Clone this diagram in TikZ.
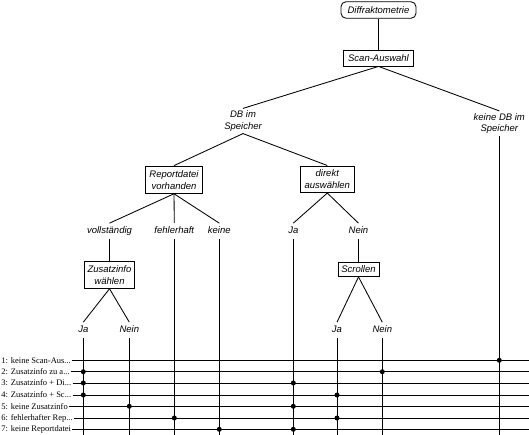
\documentclass[tikz,border=0pt]{standalone}
\usepackage{fontspec}
\setmainfont{Liberation Serif}
\newfontfamily\lsans{Liberation Sans}
\begin{document}
\begin{tikzpicture}[x=1pt,y=-1pt,line width=0.85pt,
  lbl/.style={font=\lsans\itshape\fontsize{9.5}{11}\selectfont, inner xsep=1pt, inner ysep=3pt, text height=6.8pt, text depth=2pt},
  lbltwo/.style={font=\lsans\itshape\fontsize{9.5}{11.5}\selectfont, align=center, inner sep=2pt},
  box/.style={draw, font=\lsans\itshape\fontsize{9.5}{12}\selectfont, align=center, inner sep=0pt},
  rowlbl/.style={font=\fontsize{8.5}{9}\selectfont, anchor=west, inner xsep=1pt, inner ysep=0pt},
  dot/.style={circle, fill, inner sep=0pt, minimum size=5pt}]
\useasboundingbox (0,0) rectangle (529,435);
% tree nodes
\node[box, rounded corners=5pt, minimum width=75pt, minimum height=16.5pt] (diff) at (378.5,10) {Diffraktometrie};
\node[box, minimum width=70pt, minimum height=16pt] (scan) at (378.5,58) {Scan-Auswahl};
\node[lbltwo] (db) at (243,121) {DB im\\Speicher};
\node[lbltwo] (kdb) at (499.3,123.5) {keine DB im\\Speicher};
\node[box, minimum width=56.7pt, minimum height=27.3pt] (rep) at (174,179.7) {Reportdatei\\vorhanden};
\node[box, minimum width=53.3pt, minimum height=26.7pt] (dir) at (327.3,179.3) {direkt\\auswählen};
\node[lbl] (voll) at (109.5,231) {vollständig};
\node[lbl] (fehl) at (174.3,231) {fehlerhaft};
\node[lbl] (keine) at (219.3,231) {keine};
\node[lbl] (ja1) at (293.3,231) {Ja};
\node[lbl] (nein1) at (358.5,231) {Nein};
\node[box, minimum width=50.7pt, minimum height=26.7pt] (zus) at (109.5,275) {Zusatzinfo\\wählen};
\node[box, minimum width=41pt, minimum height=14pt] (scr) at (358.5,269.5) {Scrollen};
\node[lbl] (ja2) at (83.3,330) {Ja};
\node[lbl] (nein2) at (129.3,330) {Nein};
\node[lbl] (ja3) at (337,330) {Ja};
\node[lbl] (nein3) at (382.3,330) {Nein};
% tree connectors
\draw (diff) -- (scan);
\draw (scan.south) -- (db.north);
\draw (scan.south) -- (kdb.north);
\draw (db.south) -- (rep.north);
\draw (db.south) -- (dir.north);
\draw (rep.south) -- (voll.north);
\draw (rep.south) -- (fehl.north);
\draw (rep.south) -- (keine.north);
\draw (dir.south) -- (ja1.north);
\draw (dir.south) -- (nein1.north);
\draw (voll) -- (zus);
\draw (nein1) -- (scr);
\draw (zus.south) -- (ja2.north);
\draw (zus.south) -- (nein2.north);
\draw (scr.south) -- (ja3.north);
\draw (scr.south) -- (nein3.north);
% row labels
\node[rowlbl] (r1) at (0,360.3) {1: keine Scan-Aus...};
\node[rowlbl] (r2) at (0,371.7) {2: Zusatzinfo zu a...};
\node[rowlbl] (r3) at (0,383) {3: Zusatzinfo + Di...};
\node[rowlbl] (r4) at (0,395) {4: Zusatzinfo + Sc...};
\node[rowlbl] (r5) at (0,406.3) {5: keine Zusatzinfo};
\node[rowlbl] (r6) at (0,418) {6: fehlerhafter Rep...};
\node[rowlbl] (r7) at (0,429.3) {7: keine Reportdatei};
\foreach \i/\yy in {1/360.3,2/371.7,3/383,4/395,5/406.3,6/418,7/429.3}{
  \coordinate (e\i) at (529,\yy);
  \draw (r\i.east) -- (e\i);
}
% verticals to the bottom
\coordinate (bot) at (0,435);
\foreach \n in {ja2,nein2,fehl,keine,ja1,ja3,nein3,kdb}{
  \draw (\n.south) -- (\n.south |- bot);
}
% dots
\node[dot] at (kdb |- e1) {};
\node[dot] at (ja2 |- e2) {};
\node[dot] at (nein3 |- e2) {};
\node[dot] at (ja2 |- e3) {};
\node[dot] at (ja1 |- e3) {};
\node[dot] at (ja2 |- e4) {};
\node[dot] at (ja3 |- e4) {};
\node[dot] at (nein2 |- e5) {};
\node[dot] at (ja1 |- e5) {};
\node[dot] at (fehl |- e6) {};
\node[dot] at (ja3 |- e6) {};
\node[dot] at (keine |- e7) {};
\node[dot] at (ja1 |- e7) {};
\end{tikzpicture}
\end{document}
